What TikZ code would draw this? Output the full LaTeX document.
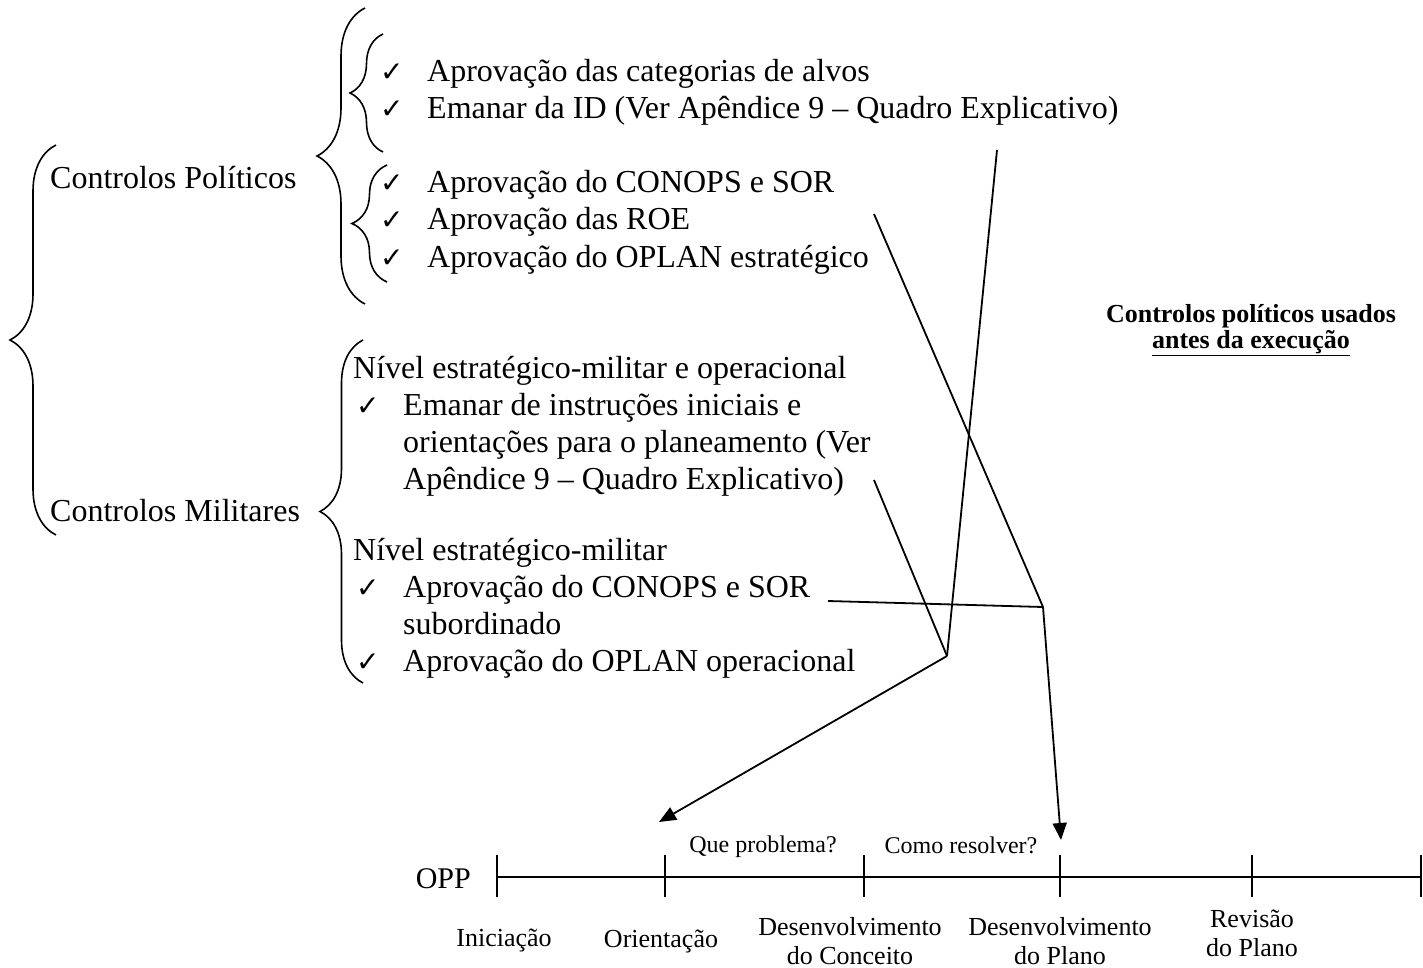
\documentclass[tikz,border=0pt]{standalone}
\usepackage{fontspec}
\setmainfont{Liberation Serif}
\newfontfamily\symfont{DejaVu Sans}
\usetikzlibrary{decorations.pathreplacing}
\usetikzlibrary{arrows.meta}

\begin{document}
\begin{tikzpicture}[x=1pt,y=-1pt,
  txt/.style={anchor=base west,inner sep=0pt,font=\fontsize{32}{37}\selectfont},
  chk/.style={anchor=base west,inner sep=0pt,font=\symfont\fontsize{28}{28}\selectfont},
  lbl/.style={anchor=base,inner sep=0pt,font=\fontsize{26}{30}\selectfont},
  qst/.style={anchor=base,inner sep=0pt,font=\fontsize{24}{28}\selectfont},
  brc/.style={decorate,decoration={brace,amplitude=#1},line width=1.6pt},
  conn/.style={line width=1.8pt},
  arr/.style={conn,-{Triangle[length=17pt,width=14pt]}},
  tl/.style={line width=2pt}]
  \useasboundingbox (0,0) rectangle (1423,968);

  % braces
  \draw[brc=46pt] (56,535) -- (56,145);
  \draw[brc=48pt] (365,304) -- (365,8);
  \draw[brc=33pt] (383,152) -- (383,34);
  \draw[brc=35pt] (387,282) -- (387,165);
  \draw[brc=43pt] (363,683) -- (363,340);

  \node[txt] (cpol) at (50,189) {Controlos Políticos};
  \node[txt] (cmil) at (50,521) {Controlos Militares};

  % controlos politicos
  \node[chk] (ck1) at (380,82) {✓};
  \node[txt] (p1) at (427,82) {Aprovação das categorias de alvos};
  \node[chk] (ck2) at (380,119) {✓};
  \node[txt] (p2) at (427,119) {Emanar da ID (Ver Apêndice 9 – Quadro Explicativo)};
  \node[chk] (ck3) at (380,193) {✓};
  \node[txt] (p3) at (427,193) {Aprovação do CONOPS e SOR};
  \node[chk] (ck4) at (380,230) {✓};
  \node[txt] (p4) at (427,230) {Aprovação das ROE};
  \node[chk] (ck5) at (380,267) {✓};
  \node[txt] (p5) at (427,267) {Aprovação do OPLAN estratégico};

  % controlos militares
  \node[txt] (m0) at (353,378) {Nível estratégico-militar e operacional};
  \node[chk] (ck6) at (356,415) {✓};
  \node[txt] (m1) at (403,415) {Emanar de instruções iniciais e};
  \node[txt] (m2) at (403,452) {orientações para o planeamento (Ver};
  \node[txt] (m3) at (403,489) {Apêndice 9 – Quadro Explicativo)};
  \node[txt] (m4) at (353,560) {Nível estratégico-militar};
  \node[chk] (ck7) at (356,597) {✓};
  \node[txt] (m5) at (403,597) {Aprovação do CONOPS e SOR};
  \node[txt] (m6) at (403,634) {subordinado};
  \node[chk] (ck8) at (356,671) {✓};
  \node[txt] (m7) at (403,671) {Aprovação do OPLAN operacional};

  \node[anchor=base,inner sep=0pt,font=\fontsize{26}{29}\selectfont\bfseries] (nota1) at (1251,322) {Controlos políticos usados};
  \node[anchor=base,inner sep=0pt,font=\fontsize{26}{29}\selectfont\bfseries] (nota2) at (1251,348) {\underline{antes da execução}};

  % ligacoes
  \coordinate (idEnd) at (997,150);
  \coordinate (sorEnd) at (874,214);
  \coordinate (instrEnd) at (874,480);
  \coordinate (subEnd) at (828,601);
  \coordinate (J1) at (947,656);
  \coordinate (J2) at (1043,607);
  \coordinate (orAlvo) at (659,822);
  \coordinate (dpAlvo) at (1061,840);
  \draw[conn] (idEnd) -- (J1);
  \draw[conn] (instrEnd) -- (J1);
  \draw[conn] (sorEnd) -- (J2);
  \draw[conn] (subEnd) -- (J2);
  \draw[arr] (J1) -- (orAlvo);
  \draw[arr] (J2) -- (dpAlvo);

  % OPP
  \coordinate (t1) at (497,877);
  \coordinate (t6) at (1421,877);
  \draw[tl] (t1) -- (t6);
  \foreach \x in {497,665,864,1060,1252,1421}
    \draw[tl] (\x,855) -- (\x,897);
  \node[anchor=base east,inner sep=0pt,font=\fontsize{30}{34}\selectfont] (opp) at (471,888) {OPP};
  \node[qst] (q1) at (763,852) {Que problema?};
  \node[qst] (q2) at (961,853) {Como resolver?};
  \node[lbl] (f1) at (504,946) {Iniciação};
  \node[lbl] (f2) at (661,947) {Orientação};
  \node[lbl] (f3a) at (850,935) {Desenvolvimento};
  \node[lbl] (f3b) at (850,964) {do Conceito};
  \node[lbl] (f4a) at (1060,935) {Desenvolvimento};
  \node[lbl] (f4b) at (1060,964) {do Plano};
  \node[lbl] (f5a) at (1252,927) {Revisão};
  \node[lbl] (f5b) at (1252,956) {do Plano};
\end{tikzpicture}
\end{document}
